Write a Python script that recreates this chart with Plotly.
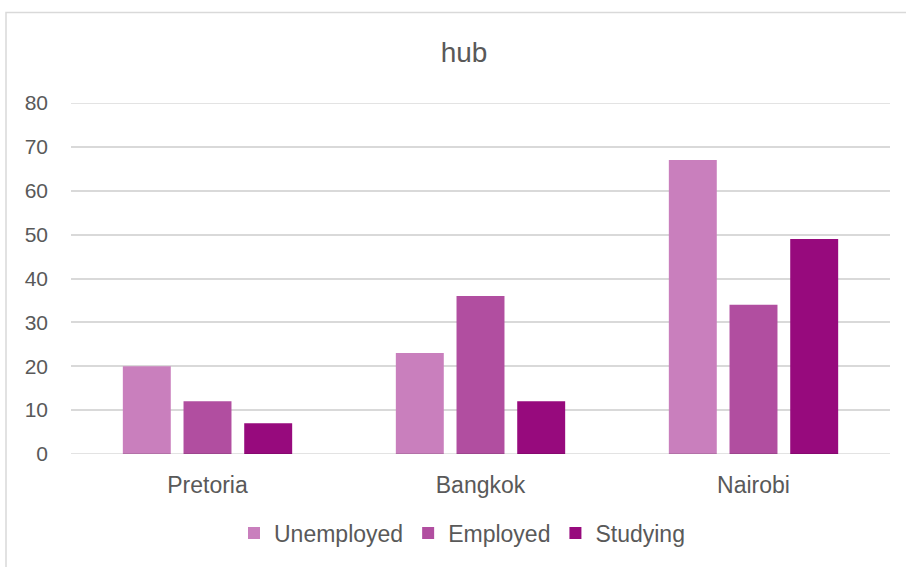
import plotly.graph_objects as go

categories = ["Pretoria", "Bangkok", "Nairobi"]
unemployed = [20, 23, 67]
employed = [12, 36, 34]
studying = [7, 12, 49]
series_names = ["Unemployed", "Employed", "Studying"]
colors = ["#C97FBD", "#B14EA0", "#970A7D"]
y_ticks = [0, 10, 20, 30, 40, 50, 60, 70, 80]

W, H = 906, 567
L, R, T, B = 71, 16, 103, 109
pw, ph = W - L - R, H - T - B

fig = go.Figure()
for name, vals, col in zip(series_names, [unemployed, employed, studying], colors):
    fig.add_trace(go.Bar(name=name, x=categories, y=vals, marker=dict(color=col, line=dict(width=0))))

def px_x(p):
    return (p - L) / pw

def px_y(p):
    return (H - B - p) / ph

fig.add_shape(type="rect", xref="paper", yref="paper",
              x0=px_x(6), x1=px_x(930), y0=px_y(600), y1=px_y(11.5),
              line=dict(color="#D9D9D9", width=1.5), fillcolor="rgba(0,0,0,0)", layer="below")

GRID = "rgba(0,0,0,0.15)"
# edge gridlines (plotly hides grid lines that sit on the plot-area edges)
for v in (y_ticks[0], y_ticks[-1]):
    fig.add_shape(type="line", xref="paper", yref="y", x0=0, x1=1, y0=v, y1=v,
                  line=dict(color=GRID, width=1.5), layer="above")

FONT = "Liberation Sans, Arial, sans-serif"
fig.update_layout(
    width=W, height=H,
    margin=dict(l=L, r=R, t=T, b=B),
    paper_bgcolor="white", plot_bgcolor="white",
    barmode="group", bargap=0.333, bargroupgap=0.21,
    font=dict(family=FONT, color="#595959"),
    title=dict(text="hub", x=px_x(464), xref="paper", xanchor="center",
               y=1 - 52 / H, yanchor="middle",
               font=dict(size=28, color="#595959", family=FONT)),
    showlegend=True,
    legend=dict(orientation="h", x=px_x(462), xanchor="center", y=px_y(538), yanchor="middle",
                font=dict(size=23, color="#595959"), itemwidth=30, traceorder="normal",
                bgcolor="rgba(0,0,0,0)"),
    xaxis=dict(showgrid=False, showline=False, ticks="", tickfont=dict(size=23, color="#595959"),
               ticklabelstandoff=15),
    yaxis=dict(range=[0, 80], tickvals=y_ticks, showgrid=True, gridcolor=GRID,
               gridwidth=1.5, zeroline=False, showline=False, ticks="",
               tickfont=dict(size=21, color="#595959", family=FONT),
               ticklabelstandoff=22, layer="above traces"),
)

fig.write_html("out.html")
